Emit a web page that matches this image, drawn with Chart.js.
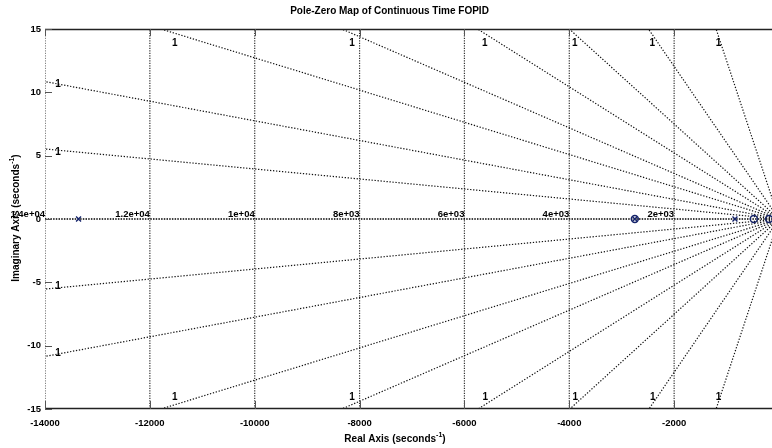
<!DOCTYPE html>
<html>
<head>
<meta charset="utf-8">
<script src="https://cdn.jsdelivr.net/npm/chart.js@4/dist/chart.umd.min.js"></script>
<style>
  html, body { margin: 0; padding: 0; background: #fff; overflow: hidden; }
  canvas { display: block; }
</style>
</head>
<body>
<canvas id="pzChart" width="800" height="448"></canvas>
<script>
// natural frequency grid (vertical arcs) and their labels
const freqValues = [-14000, -12000, -10000, -8000, -6000, -4000, -2000];
const freqLabels = ['1.4e+04', '1.2e+04', '1e+04', '8e+03', '6e+03', '4e+03', '2e+03'];

// damping lines: where each one leaves the plot box (upper and lower half)
const dampUpX = [-14000, -14000, -11790, -8340, -5750, -4000, -2490, -1200];
const dampUpY = [5.53, 10.85, 15, 15, 15, 15, 15, 15];
const dampLowX = [-14000, -14000, -11790, -8340, -5740, -3990, -2480, -1200];
const dampLowY = [-5.53, -10.85, -15, -15, -15, -15, -15, -15];
const dampLabel = '1';

// poles (x) and zeros (o), all on the real axis
const poleRe = [-13360, -2750, -840];
const zeroRe = [-2750, -480, -190];

const xTicks = [-14000, -12000, -10000, -8000, -6000, -4000, -2000];
const yTicks = [15, 10, 5, 0, -5, -10, -15];

const FONT = 'Liberation Sans, Arial, Helvetica, sans-serif';
const markColor = '#15236a';

const datasets = [];

// poles & zeros on top
datasets.push({
  label: 'poles',
  data: poleRe.map(v => ({ x: v, y: 0 })),
  showLine: false,
  pointStyle: 'crossRot',
  pointRadius: 3.5,
  borderColor: markColor,
  borderWidth: 1.4,
  order: 0
});
datasets.push({
  label: 'zeros',
  data: zeroRe.map(v => ({ x: v, y: 0 })),
  showLine: false,
  pointStyle: 'circle',
  pointRadius: 3.5,
  borderColor: markColor,
  backgroundColor: 'rgba(0,0,0,0)',
  borderWidth: 1.4,
  order: 0
});

// real axis
datasets.push({
  label: 'real',
  data: [{ x: -14000, y: 0 }, { x: 0, y: 0 }],
  showLine: true,
  borderColor: '#000',
  borderWidth: 1.5,
  borderDash: [1.5, 1.2],
  pointRadius: 0,
  order: 1
});

// damping lines
dampUpX.forEach((x, i) => {
  datasets.push({
    label: 'zeta up ' + i,
    data: [{ x: 0, y: 0 }, { x: x, y: dampUpY[i] }],
    showLine: true,
    borderColor: '#111',
    borderWidth: 1.2,
    borderDash: [1.3, 1.7],
    pointRadius: 0,
    order: 1
  });
});
dampLowX.forEach((x, i) => {
  datasets.push({
    label: 'zeta low ' + i,
    data: [{ x: 0, y: 0 }, { x: x, y: dampLowY[i] }],
    showLine: true,
    borderColor: '#111',
    borderWidth: 1.2,
    borderDash: [1.3, 1.7],
    pointRadius: 0,
    order: 1
  });
});

// natural frequency lines
freqValues.forEach((x, i) => {
  datasets.push({
    label: 'wn ' + i,
    data: [{ x: x, y: -15 }, { x: x, y: 15 }],
    showLine: true,
    borderColor: '#333',
    borderWidth: 1.2,
    borderDash: [1.2, 1.3],
    pointRadius: 0,
    order: 2
  });
});

const decor = {
  id: 'decor',
  afterDatasetsDraw(chart) {
    const { ctx, chartArea: a, scales: { x, y } } = chart;
    ctx.save();

    // box top / bottom
    ctx.strokeStyle = '#222';
    ctx.lineWidth = 1.3;
    ctx.beginPath();
    ctx.moveTo(a.left, a.top + 0.5); ctx.lineTo(a.right, a.top + 0.5);
    ctx.moveTo(a.left, a.bottom - 0.5); ctx.lineTo(a.right, a.bottom - 0.5);
    ctx.stroke();

    // inward tick marks
    ctx.strokeStyle = '#555';
    ctx.lineWidth = 1;
    ctx.beginPath();
    xTicks.forEach(v => {
      const px = Math.round(x.getPixelForValue(v)) + 0.5;
      ctx.moveTo(px, a.top); ctx.lineTo(px, a.top + 7);
      ctx.moveTo(px, a.bottom); ctx.lineTo(px, a.bottom - 8);
    });
    yTicks.forEach(v => {
      const py = Math.round(y.getPixelForValue(v)) + 0.5;
      ctx.moveTo(a.left, py); ctx.lineTo(a.left + 7, py);
    });
    ctx.stroke();

    // natural frequency labels
    ctx.fillStyle = '#000';
    ctx.font = 'bold 9.5px ' + FONT;
    ctx.textAlign = 'right';
    ctx.textBaseline = 'alphabetic';
    const y0 = y.getPixelForValue(0);
    freqValues.forEach((v, i) => {
      ctx.fillText(freqLabels[i], x.getPixelForValue(v), y0 - 2);
    });

    // damping labels
    ctx.font = 'bold 10px ' + FONT;
    ctx.textAlign = 'center';
    ctx.textBaseline = 'middle';
    const ox = x.getPixelForValue(0), oy = y0;
    const put = (xs, ys, top) => {
      xs.forEach((v, i) => {
        const px = x.getPixelForValue(v), py = y.getPixelForValue(ys[i]);
        if (v <= -14000) {
          ctx.fillText(dampLabel, a.left + 13, py + (top ? 3 : -3));
        } else {
          const ratio = (ox - px) / Math.abs(oy - py);
          ctx.fillText(dampLabel, px + 4 * ratio + 1, top ? a.top + 14 : a.bottom - 12);
        }
      });
    };
    put(dampUpX, dampUpY, true);
    put(dampLowX, dampLowY, false);

    ctx.restore();
  },
  afterDraw(chart) {
    const { ctx } = chart;
    ctx.save();
    ctx.fillStyle = '#000';
    const label = (base, cx, cy) => {
      ctx.font = 'bold 10px ' + FONT;
      const w1 = ctx.measureText(base).width;
      ctx.font = 'bold 7px ' + FONT;
      const w2 = ctx.measureText('-1').width;
      ctx.font = 'bold 10px ' + FONT;
      const w3 = ctx.measureText(')').width;
      const sx = cx - (w1 + w2 + w3) / 2;
      ctx.textAlign = 'left';
      ctx.textBaseline = 'alphabetic';
      ctx.fillText(base, sx, cy);
      ctx.font = 'bold 7px ' + FONT;
      ctx.fillText('-1', sx + w1, cy - 5);
      ctx.font = 'bold 10px ' + FONT;
      ctx.fillText(')', sx + w1 + w2, cy);
    };
    label('Real Axis (seconds', 395, 442);
    ctx.save();
    ctx.translate(19, 218);
    ctx.rotate(-Math.PI / 2);
    label('Imaginary Axis (seconds', 0, 0);
    ctx.restore();
    ctx.restore();
  }
};

new Chart(document.getElementById('pzChart'), {
  type: 'scatter',
  data: { datasets: datasets },
  options: {
    responsive: false,
    animation: false,
    layout: { padding: { left: 0, right: 21, top: 0, bottom: 0 } },
    plugins: {
      legend: { display: false },
      tooltip: { enabled: false },
      title: {
        display: true,
        text: 'Pole-Zero Map of Continuous Time FOPID',
        color: '#000',
        font: { family: FONT, size: 10, weight: 'bold' },
        padding: { top: 5, bottom: 12 }
      }
    },
    scales: {
      x: {
        type: 'linear',
        min: -14000,
        max: 0,
        afterFit: s => { s.height = 39; },
        afterBuildTicks: s => { s.ticks = xTicks.map(v => ({ value: v })); },
        grid: { display: false, drawTicks: false },
        border: { display: false },
        ticks: {
          padding: 9,
          color: '#000',
          maxRotation: 0,
          autoSkip: false,
          font: { family: FONT, size: 9.5, weight: 'bold' },
          callback: v => String(v)
        }
      },
      y: {
        type: 'linear',
        min: -15,
        max: 15,
        afterFit: s => { s.width = 45; },
        afterBuildTicks: s => { s.ticks = yTicks.map(v => ({ value: v })); },
        grid: { display: false, drawTicks: false },
        border: { display: false },
        ticks: {
          padding: 4,
          color: '#000',
          autoSkip: false,
          font: { family: FONT, size: 9.5, weight: 'bold' },
          callback: v => String(v)
        }
      }
    }
  },
  plugins: [decor]
});
</script>
</body>
</html>
